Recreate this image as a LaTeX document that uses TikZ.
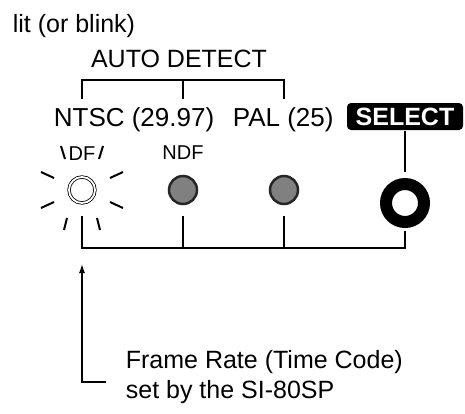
\documentclass[tikz,border=0pt]{standalone}
\usepackage{fontspec}
\setmainfont{Liberation Sans}
\usetikzlibrary{arrows.meta}
\begin{document}
\begin{tikzpicture}[x=1pt,y=-1pt,line width=1.7pt,
  lbl/.style={inner sep=0pt,font=\fontsize{25}{28}\selectfont},
  big/.style={inner sep=0pt,font=\fontsize{26}{28}\selectfont},
  small/.style={inner sep=0pt,font=\fontsize{20}{22}\selectfont},
  ledoff/.style={circle,draw=black!85,line width=2.5pt,fill=black!50,minimum size=28pt,inner sep=0pt},
  ledon/.style={circle,draw=black,line width=0.8pt,double=white,double distance=1.8pt,minimum size=26pt,inner sep=0pt},
  btn/.style={circle,draw=black,line width=12pt,minimum size=38pt,inner sep=0pt},
  selbox/.style={fill=black,rounded corners=4pt,text=white,font=\fontsize{25}{26}\selectfont\bfseries,minimum width=116pt,minimum height=27pt,inner sep=0pt},
  ray/.style={line width=2pt}]
\useasboundingbox (0,0) rectangle (465,413);
% top texts
\node[lbl,anchor=base west] (lit) at (12,32) {lit (or blink)};
\node[lbl,anchor=base] (auto) at (179,67) {AUTO DETECT};
% bracket
\coordinate (bl) at (82,80);
\coordinate (bm) at (183,80);
\coordinate (br) at (284,80);
\draw (82,99) -- (bl) -- (br) -- (284,99);
\draw (bm) -- (183,99);
% mode labels
\node[big,anchor=base west] (ntsc) at (53,126) {NTSC (29.97)};
\node[big,anchor=base west] (pal) at (232,126) {PAL (25)};
\node[selbox] (sel) at (405,116.5) {SELECT};
% LED labels
\node[small,anchor=base] (df) at (82,160) {DF};
\node[small,anchor=base] (ndf) at (183,159) {NDF};
% LEDs
\node[ledon] (led1) at (82,190) {};
\node[ledoff] (led2) at (183,190) {};
\node[ledoff] (led3) at (284,190) {};
\node[btn] (button) at (405,203) {};
% blink rays
\draw[ray] (41,172) -- (54,178);
\draw[ray] (110,178) -- (123,172);
\draw[ray] (41,208) -- (54,202);
\draw[ray] (110,202) -- (123,208);
\draw[ray] (67,218) -- (64,230);
\draw[ray] (97,218) -- (100,230);
\draw[ray] (61,146) -- (65,159);
\draw[ray] (103,146) -- (99,159);
% connectors
\coordinate (j1) at (82,248);
\coordinate (j4) at (405,248);
\draw (82,216) -- (j1) -- (j4) -- (405,231);
\draw (183,216) -- (183,248);
\draw (284,216) -- (284,248);
\draw (sel.south) -- (405,172);
% arrow
\coordinate (ac) at (82,382);
\coordinate (ae) at (106,382);
\draw[line width=1.2pt,-{Latex[length=9pt,width=6pt]}] (ae) -- (ac) -- (82,264);
% bottom text
\node[lbl,anchor=base west] (fr) at (125,368) {Frame Rate (Time Code)};
\node[lbl,anchor=base west] (sb) at (125,398) {set by the SI-80SP};
\end{tikzpicture}
\end{document}
